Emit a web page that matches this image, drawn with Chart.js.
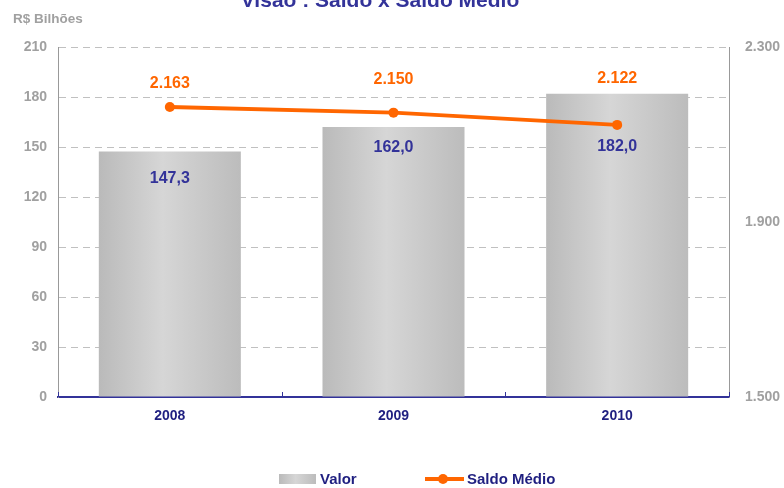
<!DOCTYPE html>
<html>
<head>
<meta charset="utf-8">
<script src="https://cdn.jsdelivr.net/npm/chart.js@4"></script>
<style>
html,body{margin:0;padding:0;background:#fff;}
canvas{display:block;}
</style>
</head>
<body>
<canvas id="c" width="784" height="488" style="width:784px;height:488px"></canvas>
<script>
const categories = ['2008', '2009', '2010'];
const valor = [147.3, 162.0, 182.0];
const saldoMedio = [2163, 2150, 2122];
const leftTicks = [0, 30, 60, 90, 120, 150, 180, 210];
const rightTicks = [1500, 1900, 2300];
const titleText = 'Visão : Saldo x Saldo Médio';
const unitText = 'R$ Bilhões';
const legendLabels = ['Valor', 'Saldo Médio'];

const FONT = '"Liberation Sans", Arial, sans-serif';
const NAVY = '#1f1f80';
const BLUE = '#333399';
const ORANGE = '#ff6600';
const GRAY = '#a0a0a0';
const BAR_PCT = 0.635;

function fmtDec(v){ return v.toFixed(1).replace('.', ','); }
function fmtThou(v){ return String(Math.round(v)).replace(/\B(?=(\d{3})+(?!\d))/g, '.'); }

function barGradient(ctx, x0, x1){
  const g = ctx.createLinearGradient(x0, 0, x1, 0);
  g.addColorStop(0, '#bababa');
  g.addColorStop(0.45, '#d6d6d6');
  g.addColorStop(1, '#bcbcbc');
  return g;
}

const decoPlugin = {
  id: 'deco',
  afterDraw(chart){
    const ctx = chart.ctx;
    const xs = chart.scales.x;
    const area = chart.chartArea;
    ctx.save();
    // title (cut at top)
    ctx.fillStyle = BLUE;
    ctx.font = 'bold 21px ' + FONT;
    ctx.textAlign = 'center';
    ctx.textBaseline = 'alphabetic';
    ctx.fillText(titleText, 380, 7);
    // unit
    ctx.fillStyle = GRAY;
    ctx.font = 'bold 13.5px ' + FONT;
    ctx.textAlign = 'left';
    ctx.textBaseline = 'middle';
    ctx.fillText(unitText, 13, 19);
    // small inner ticks on x axis
    ctx.strokeStyle = BLUE;
    ctx.lineWidth = 1;
    const n = categories.length;
    for (let i = 0; i <= n; i++) {
      const x = Math.round(xs.left + i * xs.width / n) + 0.5;
      ctx.beginPath();
      ctx.moveTo(x, area.bottom - 5);
      ctx.lineTo(x, area.bottom);
      ctx.stroke();
    }
    // bar labels
    const barMeta = chart.getDatasetMeta(0);
    const barOff = [27, 21, 53];
    ctx.fillStyle = BLUE;
    ctx.font = 'bold 16px ' + FONT;
    ctx.textAlign = 'center';
    ctx.textBaseline = 'middle';
    barMeta.data.forEach((el, i) => {
      ctx.fillText(fmtDec(valor[i]), el.x, el.y + barOff[i]);
    });
    // line labels
    const lineMeta = chart.getDatasetMeta(1);
    const lineOff = [23, 33, 46];
    ctx.fillStyle = ORANGE;
    lineMeta.data.forEach((el, i) => {
      ctx.fillText(fmtThou(saldoMedio[i]), el.x, el.y - lineOff[i]);
    });
    // legend
    const ly = 479;
    ctx.fillStyle = barGradient(ctx, 279, 316);
    ctx.fillRect(279, ly - 5, 37, 10);
    ctx.fillStyle = NAVY;
    ctx.font = 'bold 15px ' + FONT;
    ctx.textAlign = 'left';
    ctx.fillText(legendLabels[0], 320, ly + 1);
    ctx.strokeStyle = ORANGE;
    ctx.lineWidth = 4;
    ctx.beginPath();
    ctx.moveTo(425, ly);
    ctx.lineTo(464, ly);
    ctx.stroke();
    ctx.fillStyle = ORANGE;
    ctx.beginPath();
    ctx.arc(443, ly, 5, 0, Math.PI * 2);
    ctx.fill();
    ctx.fillStyle = NAVY;
    ctx.fillText(legendLabels[1], 467, ly + 1);
    ctx.restore();
  }
};

new Chart(document.getElementById('c'), {
  data: {
    labels: categories,
    datasets: [
      {
        type: 'bar',
        label: legendLabels[0],
        data: valor,
        yAxisID: 'y',
        order: 1,
        categoryPercentage: 1,
        barPercentage: BAR_PCT,
        borderWidth: 0,
        backgroundColor: function(c){
          const chart = c.chart;
          const xs = chart.scales && chart.scales.x;
          if (!xs || !chart.chartArea || !xs.width) return '#c8c8c8';
          const cx = xs.getPixelForValue(c.dataIndex);
          const w = xs.width / categories.length * BAR_PCT;
          return barGradient(chart.ctx, cx - w / 2, cx + w / 2);
        }
      },
      {
        type: 'line',
        label: legendLabels[1],
        data: saldoMedio,
        yAxisID: 'y1',
        order: 0,
        borderColor: ORANGE,
        borderWidth: 4,
        pointRadius: 5,
        pointBackgroundColor: ORANGE,
        pointBorderWidth: 0,
        tension: 0,
        fill: false
      }
    ]
  },
  options: {
    responsive: false,
    devicePixelRatio: 1,
    animation: false,
    layout: { padding: { left: 0, right: 0, top: 47, bottom: 51 } },
    plugins: {
      legend: { display: false },
      title: { display: false },
      tooltip: { enabled: false }
    },
    scales: {
      x: {
        type: 'category',
        offset: true,
        grid: { display: false, drawTicks: false },
        border: { display: true, color: BLUE, width: 2 },
        ticks: { color: NAVY, font: { family: FONT, size: 14, weight: 'bold' }, padding: 11 },
        afterFit(s){ s.height = 40; }
      },
      y: {
        position: 'left',
        min: 0, max: 210,
        afterBuildTicks(s){ s.ticks = leftTicks.map(v => ({ value: v })); },
        grid: { color: '#c0c0c0', lineWidth: 1, drawTicks: false },
        border: { display: true, color: '#999999', width: 1, dash: [7, 5] },
        ticks: { color: GRAY, font: { family: FONT, size: 14, weight: 'bold' }, padding: 11 },
        afterFit(s){ s.width = 58; }
      },
      y1: {
        position: 'right',
        min: 1500, max: 2300,
        afterBuildTicks(s){ s.ticks = rightTicks.map(v => ({ value: v })); },
        grid: { drawOnChartArea: false, drawTicks: false },
        border: { display: true, color: '#999999', width: 1 },
        ticks: { color: GRAY, font: { family: FONT, size: 14, weight: 'bold' }, padding: 16,
          callback: v => fmtThou(v) },
        afterFit(s){ s.width = 55; }
      }
    }
  },
  plugins: [decoPlugin]
});
</script>
</body>
</html>
